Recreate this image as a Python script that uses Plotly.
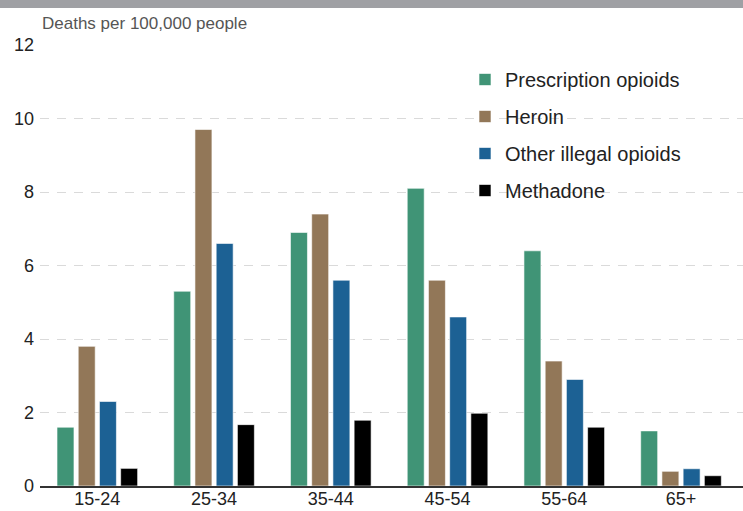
import plotly.graph_objects as go

categories = ["15-24", "25-34", "35-44", "45-54", "55-64", "65+"]
series_names = ["Prescription opioids", "Heroin", "Other illegal opioids", "Methadone"]
prescription = [1.6, 5.3, 6.9, 8.1, 6.4, 1.5]
heroin = [3.8, 9.7, 7.4, 5.6, 3.4, 0.4]
other_illegal = [2.3, 6.6, 5.6, 4.6, 2.9, 0.47]
methadone = [0.48, 1.67, 1.79, 1.98, 1.6, 0.28]
y_ticks = [0, 2, 4, 6, 8, 10, 12]

colors = ["#409476", "#927758", "#1c6194", "#000000"]
values = [prescription, heroin, other_illegal, methadone]

FONT = "Liberation Sans, Arial, sans-serif"

fig = go.Figure()
for name, vals, col in zip(series_names, values, colors):
    fig.add_trace(go.Bar(
        x=categories, y=vals, name=name, legendgroup=name,
        marker=dict(color=col, line=dict(color="rgba(255,255,255,0.6)", width=1)),
    ))

W, H = 743, 511
ml, mr, mt, mb = 40, 0, 45, 25
pw, ph = W - ml - mr, H - mt - mb

def px_x(p):
    return (p - ml) / pw

def px_y(p):
    return (H - mb - p) / ph

fig.update_layout(
    width=W, height=H,
    margin=dict(l=ml, r=mr, t=mt, b=mb, pad=0),
    paper_bgcolor="white", plot_bgcolor="white",
    barmode="group", bargap=0.273, bargroupgap=0.2,
    font=dict(family=FONT, color="#222222", size=18),
    showlegend=True,
    legend=dict(
        x=px_x(465), y=px_y(60), xanchor="left", yanchor="top",
        font=dict(family=FONT, size=20, color="#222222"),
        bgcolor="rgba(0,0,0,0)", tracegroupgap=8,
    ),
    xaxis=dict(
        type="category", range=[-0.491, 5.531],
        showgrid=False, showline=True, linecolor="#333333", linewidth=2,
        ticks="", ticklabelstandoff=-5, tickfont=dict(size=18, color="#222222"),
        automargin=False, fixedrange=True,
    ),
    yaxis=dict(
        range=[0, 12], tickvals=y_ticks, ticktext=[str(v) for v in y_ticks],
        showgrid=True, gridcolor="#dadada", gridwidth=1.4, griddash="9px,8px",
        zeroline=False, showline=False, ticks="", ticklabelstandoff=5,
        tickfont=dict(size=18, color="#222222"),
        automargin=False, fixedrange=True,
    ),
    shapes=[dict(
        type="rect", xref="paper", yref="paper",
        x0=px_x(0), x1=px_x(W), y0=px_y(8), y1=px_y(0),
        fillcolor="#9fa0a4", line=dict(width=0), layer="above",
    )],
    annotations=[dict(
        text="Deaths per 100,000 people", xref="paper", yref="paper",
        x=px_x(40), y=px_y(23), xanchor="left", yanchor="middle",
        showarrow=False, font=dict(family=FONT, size=17, color="#555555"),
    )],
)

fig.write_html("out.html")
